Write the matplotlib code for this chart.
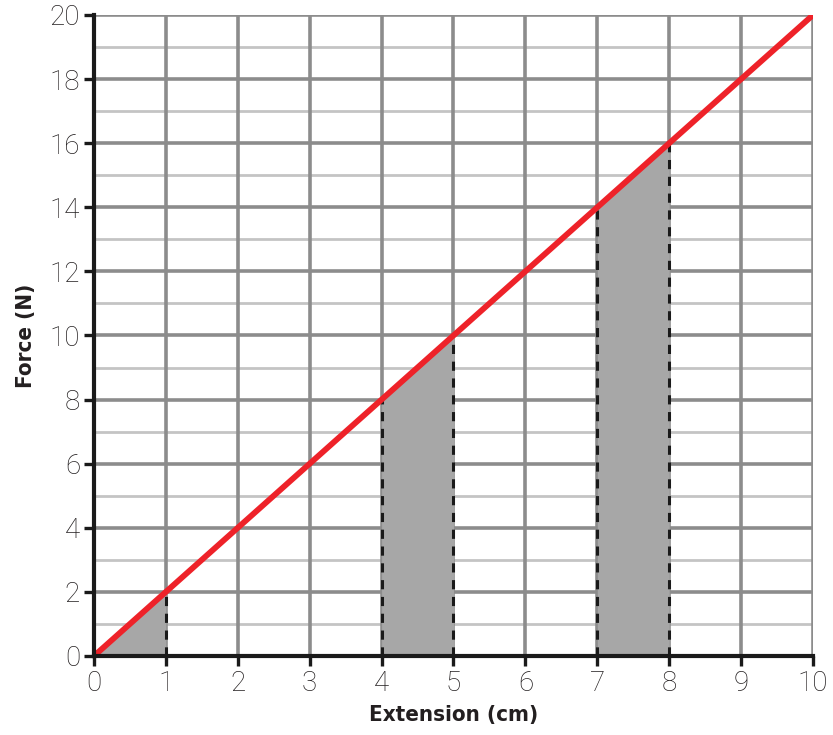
import matplotlib.pyplot as plt
import numpy as np

# line data
extension = [0, 10]
force = [0, 20]
# shaded strips under the line (start, end)
strip_starts = [0, 4, 7]
strip_ends = [1, 5, 8]

x_ticks = list(range(0, 11))
y_ticks = list(range(0, 21, 2))

tick_font = ["Roboto", "DejaVu Sans"]
label_font = ["DejaVu Sans"]

fig = plt.figure(figsize=(8.33, 7.35), dpi=100)
ax = fig.add_axes([0.1128, 0.1075, 0.8632, 0.8721])

major_grey = "#8c8c8c"
minor_grey = "#c4c4c4"
red = "#ee2229"
fill_grey = "#a7a7a7"

# minor horizontal grid at odd forces
for yv in range(1, 20, 2):
    ax.axhline(yv, color=minor_grey, linewidth=2.0, zorder=0)
for yv in y_ticks[1:]:
    ax.axhline(yv, color=major_grey, linewidth=2.6, zorder=0.5)
for xv in x_ticks[1:]:
    ax.axvline(xv, color=major_grey, linewidth=2.6, zorder=0.5)

slope = force[1] / extension[1]
for a, b in zip(strip_starts, strip_ends):
    xs = np.array([a, b])
    ax.fill_between(xs, 0, slope * xs, color=fill_grey, linewidth=0, zorder=1)
    for xv in (a, b):
        if xv == 0:
            continue
        ax.plot([xv, xv], [0, slope * xv], color="#1a1a1a", linewidth=2.2,
                linestyle=(0, (3, 2.5)), zorder=2)

ax.plot(extension, force, color=red, linewidth=4.2, solid_capstyle="butt", zorder=3)

ax.set_xlim(0, 10)
ax.set_ylim(0, 20)
ax.set_xticks(x_ticks)
ax.set_yticks(y_ticks)

for side in ("top", "right"):
    ax.spines[side].set_visible(False)
for side in ("left", "bottom"):
    ax.spines[side].set_color("#1a1a1a")
    ax.spines[side].set_linewidth(3.0)
    ax.spines[side].set_zorder(4)

ax.tick_params(axis="both", direction="out", length=7, width=2.4, color="#1a1a1a",
               labelsize=20, labelcolor="#231f20", pad=3)
for lab in ax.get_xticklabels() + ax.get_yticklabels():
    lab.set_family(tick_font)
    lab.set_fontweight("light")

ax.set_xlabel("Extension (cm)", family=label_font, fontweight="bold", fontstretch="condensed",
              fontsize=16, color="#231f20", labelpad=6)
ax.set_ylabel("Force (N)", family=label_font, fontweight="bold", fontstretch="condensed",
              fontsize=16, color="#231f20", labelpad=10)

fig.savefig("out.png", dpi=100)
